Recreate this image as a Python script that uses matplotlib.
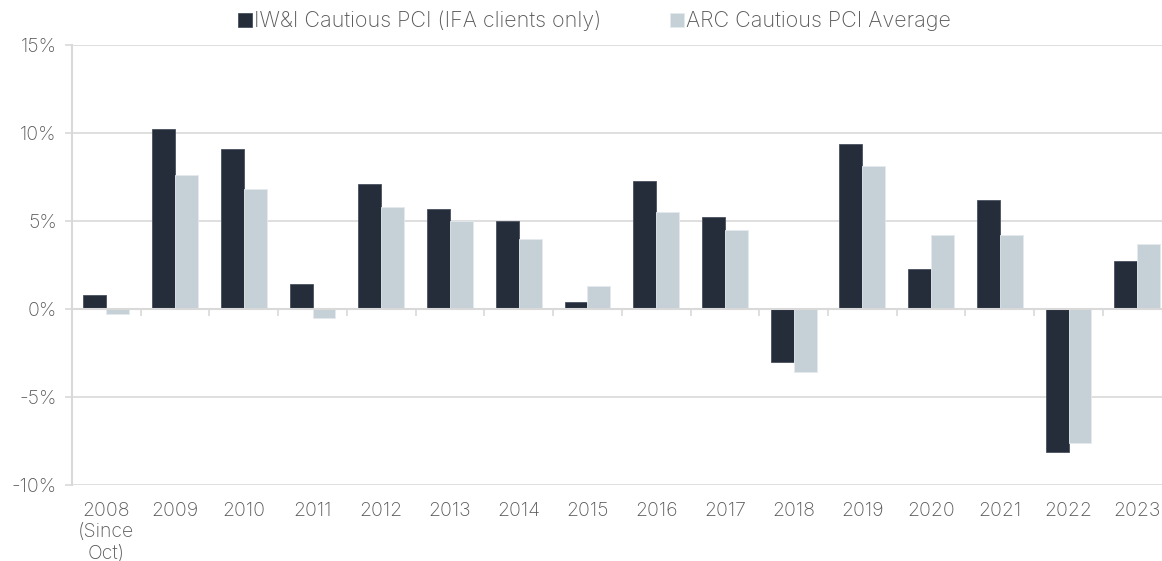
import numpy as np
import matplotlib.pyplot as plt

# data (annual returns, %)
years = ["2008\n(Since\nOct)", "2009", "2010", "2011", "2012", "2013", "2014", "2015",
         "2016", "2017", "2018", "2019", "2020", "2021", "2022", "2023"]
iwi_cautious = [0.8, 10.2, 9.1, 1.4, 7.1, 5.7, 5.0, 0.4, 7.3, 5.2, -3.0, 9.4, 2.3, 6.2, -8.1, 2.7]
arc_cautious = [-0.3, 7.6, 6.8, -0.5, 5.8, 5.0, 4.0, 1.3, 5.5, 4.5, -3.6, 8.1, 4.2, 4.2, -7.6, 3.7]
series_names = ["IW&I Cautious PCI (IFA clients only)", "ARC Cautious PCI Average"]
yticks = [-10, -5, 0, 5, 10, 15]

dark = "#252c3a"
light = "#c5d1d6"
grid_col = "#d9d9d9"
text_col = "#595959"

plt.rcParams['font.family'] = ['Inter', 'DejaVu Sans']
plt.rcParams['font.weight'] = 'light'

fig = plt.figure(figsize=(11.62, 5.61), dpi=100)
ax = fig.add_axes([72/1162, 1 - 485/561, 1 - 72/1162, 440/561])

x = np.arange(len(years))
w = 0.333
ax.bar(x - w/2, iwi_cautious, w, color=dark, edgecolor="#4a5160", linewidth=0.6,
       label=series_names[0], zorder=3)
ax.bar(x + w/2, arc_cautious, w, color=light, edgecolor="#e4eaed", linewidth=0.6,
       label=series_names[1], zorder=3)

ax.set_xlim(-0.5, 15.36)
ax.set_ylim(-10, 15)
ax.set_yticks(yticks)
ax.set_yticklabels([f"{v}%" for v in yticks])
ax.yaxis.grid(True, color=grid_col, linewidth=1.2, zorder=0)
ax.tick_params(axis='y', length=5, width=1.2, color=grid_col, labelcolor=text_col,
               labelsize=14, pad=6)

# x axis line at zero with small ticks between categories
ax.spines['bottom'].set_position(('data', 0))
ax.spines['bottom'].set_color(grid_col)
ax.spines['bottom'].set_linewidth(1.5)
ax.spines['bottom'].set_zorder(4)
ax.set_xticks(x[:-1] + 0.5)
ax.set_xticklabels([])
ax.tick_params(axis='x', length=5, width=1.2, color=grid_col)
for xi, lab in zip(x, years):
    ax.text(xi, -0.038, lab, transform=ax.get_xaxis_transform(), ha='center', va='top',
            fontsize=14, color=text_col, linespacing=1.25)

ax.spines['left'].set_color(grid_col)
ax.spines['left'].set_linewidth(1.5)
ax.spines['top'].set_visible(False)
ax.spines['right'].set_visible(False)

fig.legend(loc='center', bbox_to_anchor=(594.5/1162, 1 - 21/561), ncol=2, frameon=False,
           fontsize=15.5, labelcolor=text_col, handlelength=0.65, handleheight=0.65,
           handletextpad=0.1, columnspacing=3.2, borderpad=0)

fig.savefig("out.png", dpi=100)
